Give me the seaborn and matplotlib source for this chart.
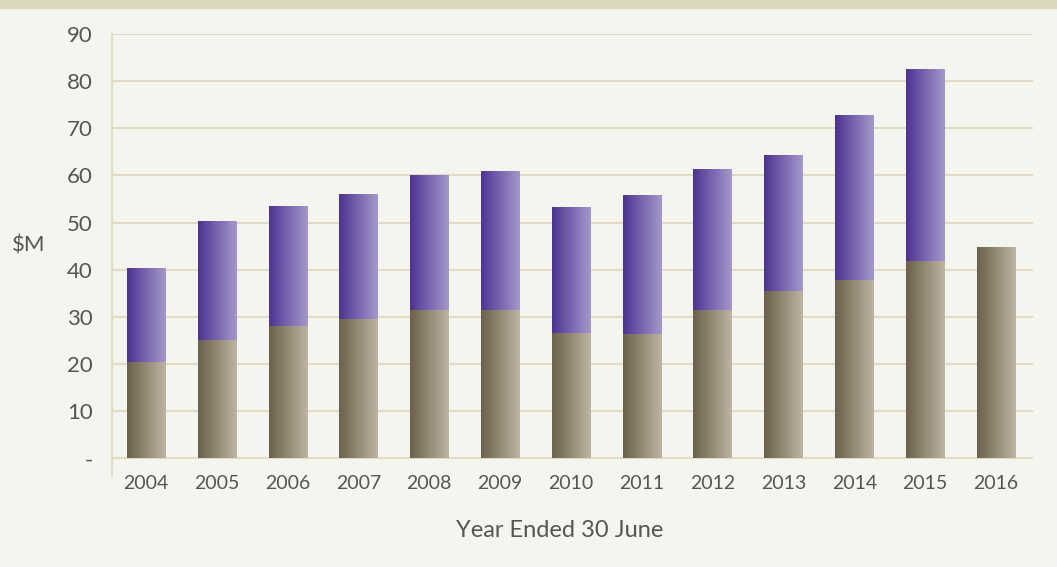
import numpy as np
import pandas as pd
import matplotlib.pyplot as plt
import seaborn as sns
from matplotlib.colors import LinearSegmentedColormap
from matplotlib.patches import Rectangle

# data ($M)
years = [2004, 2005, 2006, 2007, 2008, 2009, 2010, 2011, 2012, 2013, 2014, 2015, 2016]
base = [20.2, 25.0, 28.0, 29.3, 31.4, 31.4, 26.5, 26.3, 31.2, 35.4, 37.6, 41.8, 44.6]
total = [40.2, 50.1, 53.3, 56.0, 59.9, 60.7, 53.1, 55.8, 61.3, 64.1, 72.6, 82.4, 44.6]
ytick_vals = [0, 10, 20, 30, 40, 50, 60, 70, 80, 90]
ytick_labels = ["-", "10", "20", "30", "40", "50", "60", "70", "80", "90"]

df = pd.DataFrame({"year": years, "base": base, "total": total})

bg = "#f5f5ef"
grid_col = "#e0dcc4"
text_col = "#555555"

sns.set_style("white", rc={"axes.facecolor": bg, "figure.facecolor": bg})
plt.rcParams["font.family"] = ["Lato", "DejaVu Sans"]

fig = plt.figure(figsize=(10.57, 5.67), dpi=100)
ax = fig.add_axes([0.106, 0.162, 0.871, 0.778])

# total first, base on top of it -> stacked look
sns.barplot(data=df, x="year", y="total", color="#6a50a0", width=0.54, ax=ax)
sns.barplot(data=df, x="year", y="base", color="#8a8070", width=0.54, ax=ax)

# horizontal gradients in place of flat fills
purple = LinearSegmentedColormap.from_list("p", ["#4c3391", "#7a66b0", "#a598cb"])
brown = LinearSegmentedColormap.from_list("b", ["#6b604b", "#958a76", "#bdb5a3"])
grad = np.linspace(0, 1, 256).reshape(1, -1)
n = len(years)
for i, p in enumerate(list(ax.patches)):
    x, y = p.get_x(), p.get_y()
    w, h = p.get_width(), p.get_height()
    p.set_visible(False)
    if h <= 0:
        continue
    cmap = purple if i < n else brown
    ax.imshow(grad, cmap=cmap, aspect="auto", extent=[x, x + w, y, y + h],
              zorder=3 if i >= n else 2, interpolation="bilinear")

ax.set_xlim(-0.48, 12.52)
ax.set_ylim(-3.6, 90)
ax.set_yticks(ytick_vals)
ax.set_yticklabels(ytick_labels)
ax.grid(axis="y", color=grid_col, linewidth=1.5, zorder=0)
ax.set_axisbelow(True)

for s in ["top", "right", "bottom"]:
    ax.spines[s].set_visible(False)
ax.spines["left"].set_color(grid_col)
ax.spines["left"].set_linewidth(1.5)

ax.tick_params(axis="y", length=8, width=1.5, color=grid_col, pad=6,
               labelsize=16, labelcolor=text_col)
ax.tick_params(axis="x", length=0, pad=0, labelsize=14, labelcolor=text_col)

ax.set_ylabel("\\$M", rotation=0, fontsize=16, color=text_col, ha="center", va="center")
ax.yaxis.set_label_coords(-0.091, 0.52)
ax.set_xlabel("Year Ended 30 June", fontsize=17, color=text_col, va="center")
ax.xaxis.set_label_coords(0.486, -0.125)

# beige band across the top
fig.patches.append(Rectangle((0, 1 - 8 / 567), 1, 8 / 567, transform=fig.transFigure,
                             color="#dcd6bc", zorder=0))

fig.savefig("out.png", dpi=100, facecolor=bg)
